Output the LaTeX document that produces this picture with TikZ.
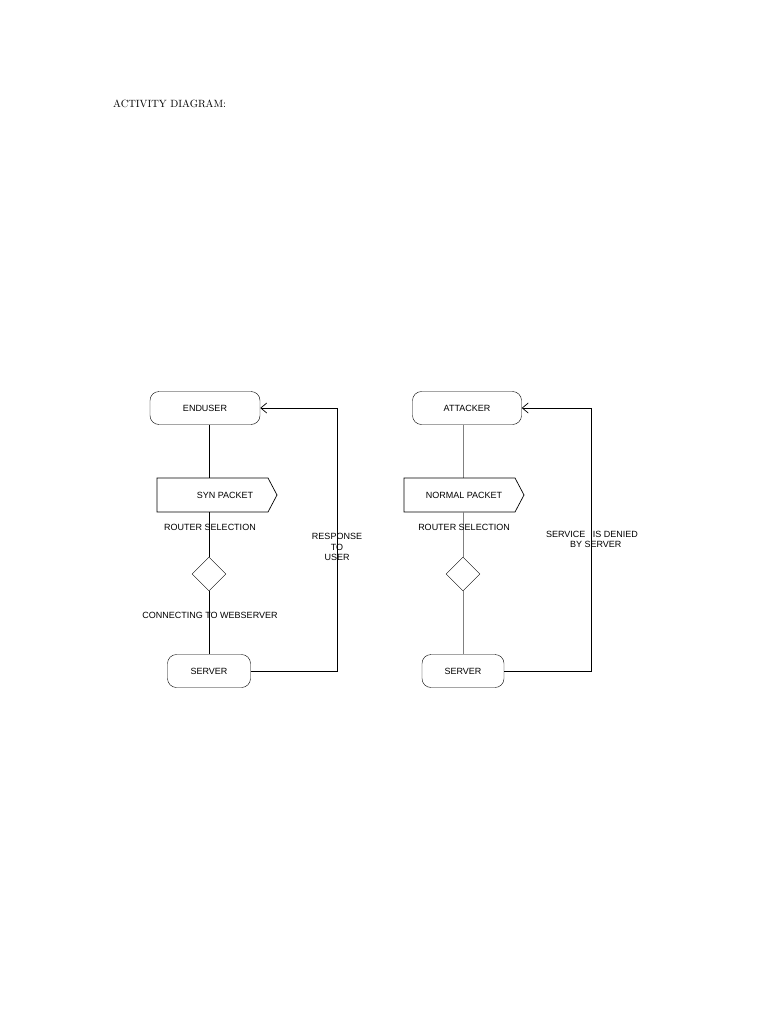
\documentclass[tikz,border=0pt]{standalone}
\usepackage{fontspec}
\setsansfont{Liberation Sans}
\usetikzlibrary{shapes.geometric,arrows.meta}
\begin{document}
\begin{tikzpicture}[x=1pt,y=-1pt,
  act/.style={draw,rounded corners=9pt,minimum height=33pt,font=\sffamily\fontsize{9}{10}\selectfont,inner sep=0pt},
  dec/.style={draw,diamond,minimum width=34pt,minimum height=34pt,inner sep=0pt},
  lbl/.style={font=\sffamily\fontsize{9}{10.5}\selectfont,align=center,inner sep=0pt},
  ln/.style={draw,line width=0.7pt},
  arr/.style={ln,-{Straight Barb[length=6pt,width=10pt]}}]
\useasboundingbox (0,0) rectangle (768,1024);
\node[anchor=west,font=\fontsize{10.5}{12}\selectfont,inner sep=0pt] (title) at (113,104) {ACTIVITY DIAGRAM:};
% left
\node[act,minimum width=110pt] (eu) at (205,408) {ENDUSER};
\draw[ln] (157,478) -- (268,478) -- (277,495) -- (268,512) -- (157,512) -- cycle;
\node[lbl] (syn) at (225,495) {SYN PACKET};
\node[dec] (d1) at (209,574) {};
\node[act,minimum width=83pt] (s1) at (209,671) {SERVER};
\draw[ln] (209,424.5) -- (209,478);
\draw[ln] (209,512) -- (d1.north);
\draw[ln] (d1.south) -- (s1.north);
\node[lbl,fill=white,fill opacity=0,text opacity=1] (rs1) at (210,527) {ROUTER SELECTION};
\node[lbl] (cw) at (210,615) {CONNECTING TO WEBSERVER};
\coordinate (c1) at (337,671); \coordinate (c2) at (337,408);
\draw[arr] (s1.east) -- (c1) -- (c2) -- (eu.east);
\node[lbl] (rtu) at (337,547) {RESPONSE\\TO\\USER};
% right
\node[act,minimum width=109pt] (at) at (467,408) {ATTACKER};
\draw[ln,gray] (463,424.5) -- (463,478);
\draw[ln] (404,478) -- (515,478) -- (524,495) -- (515,512) -- (404,512) -- cycle;
\node[lbl] (np) at (464,495) {NORMAL PACKET};
\node[dec] (d2) at (463,574) {};
\node[act,minimum width=82pt] (s2) at (463,671) {SERVER};
\draw[ln,gray] (463,512) -- (d2.north);
\draw[ln,gray] (d2.south) -- (s2.north);
\node[lbl] (rs2) at (464,527) {ROUTER SELECTION};
\coordinate (c3) at (591,671); \coordinate (c4) at (591,408);
\draw[arr] (s2.east) -- (c3) -- (c4) -- (at.east);
\node[lbl] (sd) at (592,539.5) {SERVICE \ \ IS DENIED\\\ \ \ BY SERVER};
\end{tikzpicture}
\end{document}
